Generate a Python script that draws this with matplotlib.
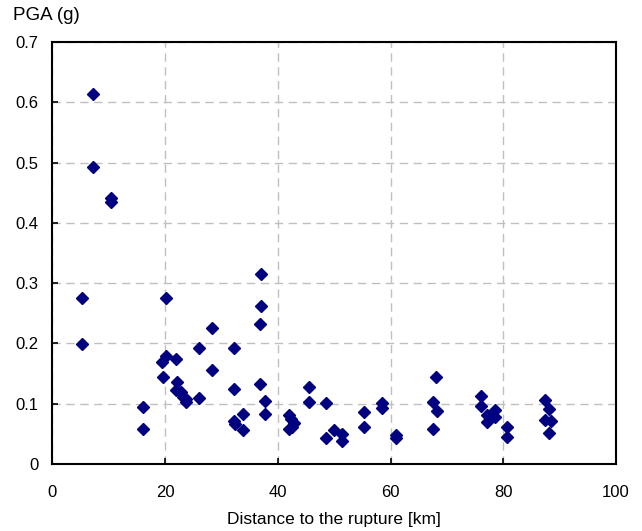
import matplotlib
matplotlib.use("Agg")
from matplotlib import pyplot as plt

plt.rcParams['font.family'] = ['Liberation Sans', 'DejaVu Sans']

# distance to the rupture (km) and PGA (g)
dist_km = [7.2, 7.2, 10.4, 10.4,
           5.2, 5.2, 20.1, 28.3, 26.0, 32.2, 20.1, 19.5, 22.0, 19.6, 28.3,
           22.2, 21.9, 22.9, 23.2, 23.7, 23.8, 26.0, 32.2, 16.0, 16.0,
           33.9, 32.3, 32.4, 33.9,
           37.1, 37.1, 36.9, 36.9, 37.8, 37.8,
           41.9, 42.8, 41.9, 42.6, 42.3,
           45.6, 45.6, 48.6, 48.6, 49.9, 51.4, 51.4,
           55.3, 55.3, 58.5, 58.5, 61.0, 61.0,
           68.1, 67.6, 68.3, 67.6,
           76.0, 76.0, 78.6, 77.2, 78.6, 77.2, 80.6, 80.6,
           87.4, 88.1, 87.4, 88.4, 88.1]
pga_g = [0.613, 0.492, 0.442, 0.434,
         0.275, 0.199, 0.275, 0.225, 0.192, 0.192, 0.179, 0.170, 0.174, 0.145, 0.156,
         0.136, 0.123, 0.120, 0.112, 0.103, 0.108, 0.109, 0.125, 0.094, 0.058,
         0.083, 0.071, 0.066, 0.057,
         0.316, 0.262, 0.232, 0.133, 0.104, 0.083,
         0.081, 0.068, 0.059, 0.061, 0.074,
         0.128, 0.103, 0.101, 0.044, 0.056, 0.050, 0.039,
         0.087, 0.062, 0.101, 0.093, 0.049, 0.044,
         0.145, 0.103, 0.088, 0.058,
         0.113, 0.096, 0.090, 0.081, 0.078, 0.070, 0.062, 0.045,
         0.107, 0.091, 0.073, 0.072, 0.051]

fig = plt.figure(figsize=(6.42, 5.31), dpi=100)
ax = fig.add_axes([0.0815, 0.126, 0.878, 0.795])

ax.plot(dist_km, pga_g, linestyle='none', marker='D', markersize=6.5,
        color='#000080', zorder=3)

ax.set_xlim(0, 100)
ax.set_ylim(0, 0.7)
ax.set_xticks(range(0, 101, 20))
ax.set_yticks([0, 0.1, 0.2, 0.3, 0.4, 0.5, 0.6, 0.7])
ax.set_yticklabels(['0', '0.1', '0.2', '0.3', '0.4', '0.5', '0.6', '0.7'])

ax.grid(True, color='#c0c0c0', linestyle=(0, (6, 4)), linewidth=1)
ax.set_axisbelow(True)
for s in ax.spines.values():
    s.set_linewidth(1.5)
ax.tick_params(direction='in', length=4, width=1.2, labelsize=12)
ax.tick_params(axis='x', pad=15)
ax.tick_params(axis='y', pad=10)

ax.set_xlabel('Distance to the rupture [km]', fontsize=12.5, labelpad=9)
fig.text(13 / 642, 1 - 15 / 531, 'PGA (g)', fontsize=13.5, va='center', ha='left')

fig.savefig('out.png', dpi=100)
